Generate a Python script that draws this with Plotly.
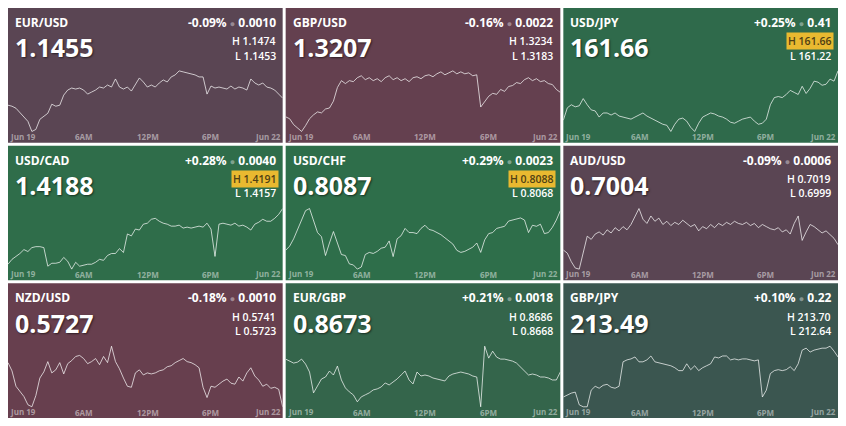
import plotly.graph_objects as go

# --- Tile data ---
PAIRS = ["EUR/USD", "GBP/USD", "USD/JPY", "USD/CAD", "USD/CHF", "AUD/USD", "NZD/USD", "EUR/GBP", "GBP/JPY"]
PRICES = ["1.1455", "1.3207", "161.66", "1.4188", "0.8087", "0.7004", "0.5727", "0.8673", "213.49"]
CHANGE_PCT = ["-0.09%", "-0.16%", "+0.25%", "+0.28%", "+0.29%", "-0.09%", "-0.18%", "+0.21%", "+0.10%"]
CHANGE_ABS = ["0.0010", "0.0022", "0.41", "0.0040", "0.0023", "0.0006", "0.0010", "0.0018", "0.22"]
HIGHS = ["1.1474", "1.3234", "161.66", "1.4191", "0.8088", "0.7019", "0.5741", "0.8686", "213.70"]
LOWS = ["1.1453", "1.3183", "161.22", "1.4157", "0.8068", "0.6999", "0.5723", "0.8668", "212.64"]
NEAR_HIGH = [False, False, True, True, True, False, False, False, False]
TILE_COLORS = ["#5a4553", "#64404f", "#2f6a4b", "#2f6d4a", "#2e6e4a",
               "#5a4553", "#673f4e", "#34654b", "#3b5650"]

TICK_LABELS = ["Jun 19", "6AM", "12PM", "6PM", "Jun 22"]
TICK_POS = [0, 19.2, 35.1, 50.9, 69]

# --- Intraday series (70 samples each) ---
EUR_USD = [1.1438, 1.1437, 1.1435, 1.1431, 1.1427, 1.1422, 1.1412, 1.1414, 1.1424, 1.1427,
           1.1430, 1.1439, 1.1437, 1.1438, 1.1448, 1.1453, 1.1455, 1.1454, 1.1455, 1.1453,
           1.1449, 1.1451, 1.1453, 1.1456, 1.1455, 1.1458, 1.1456, 1.1464, 1.1456, 1.1454,
           1.1456, 1.1452, 1.1458, 1.1465, 1.1461, 1.1456, 1.1458, 1.1456, 1.1460, 1.1463,
           1.1461, 1.1466, 1.1468, 1.1472, 1.1471, 1.1470, 1.1469, 1.1468, 1.1466, 1.1466,
           1.1449, 1.1457, 1.1455, 1.1456, 1.1455, 1.1454, 1.1457, 1.1454, 1.1456, 1.1455,
           1.1453, 1.1464, 1.1460, 1.1458, 1.1460, 1.1456, 1.1455, 1.1453, 1.1449, 1.1445]
GBP_USD = [1.3226, 1.3224, 1.3218, 1.3214, 1.3211, 1.3217, 1.3224, 1.3228, 1.3231, 1.3230,
           1.3234, 1.3235, 1.3242, 1.3256, 1.3263, 1.3260, 1.3263, 1.3262, 1.3266, 1.3268,
           1.3264, 1.3266, 1.3263, 1.3265, 1.3262, 1.3266, 1.3268, 1.3264, 1.3266, 1.3263,
           1.3265, 1.3262, 1.3266, 1.3267, 1.3265, 1.3268, 1.3269, 1.3267, 1.3270, 1.3272,
           1.3269, 1.3271, 1.3273, 1.3270, 1.3272, 1.3270, 1.3271, 1.3268, 1.3269, 1.3236,
           1.3242, 1.3247, 1.3250, 1.3249, 1.3254, 1.3252, 1.3257, 1.3258, 1.3261, 1.3260,
           1.3264, 1.3266, 1.3263, 1.3265, 1.3262, 1.3263, 1.3260, 1.3259, 1.3254, 1.3251]
USD_JPY = [161.23, 161.35, 161.38, 161.36, 161.37, 161.44, 161.38, 161.33, 161.32, 161.26,
           161.30, 161.30, 161.28, 161.30, 161.27, 161.26, 161.25, 161.24, 161.26, 161.28,
           161.30, 161.27, 161.25, 161.23, 161.21, 161.19, 161.18, 161.12, 161.19, 161.24,
           161.25, 161.22, 161.16, 161.12, 161.20, 161.26, 161.28, 161.30, 161.29, 161.27,
           161.26, 161.24, 161.21, 161.20, 161.22, 161.24, 161.25, 161.26, 161.22, 161.19,
           161.20, 161.24, 161.38, 161.45, 161.46, 161.45, 161.48, 161.52, 161.50, 161.48,
           161.56, 161.49, 161.54, 161.61, 161.60, 161.57, 161.58, 161.63, 161.61, 161.71]
USD_CAD = [1.4116, 1.4121, 1.4124, 1.4127, 1.4131, 1.4129, 1.4133, 1.4134, 1.4134, 1.4133,
           1.4114, 1.4117, 1.4117, 1.4118, 1.4123, 1.4119, 1.4111, 1.4118, 1.4114, 1.4115,
           1.4116, 1.4116, 1.4118, 1.4121, 1.4120, 1.4125, 1.4127, 1.4127, 1.4132, 1.4128,
           1.4147, 1.4145, 1.4152, 1.4151, 1.4157, 1.4158, 1.4162, 1.4163, 1.4160, 1.4158,
           1.4157, 1.4155, 1.4155, 1.4156, 1.4153, 1.4154, 1.4153, 1.4154, 1.4155, 1.4154,
           1.4158, 1.4152, 1.4124, 1.4157, 1.4158, 1.4157, 1.4156, 1.4158, 1.4155, 1.4156,
           1.4154, 1.4151, 1.4157, 1.4159, 1.4162, 1.4160, 1.4160, 1.4163, 1.4167, 1.4173]
USD_CHF = [0.8031, 0.8035, 0.8042, 0.8051, 0.8060, 0.8069, 0.8071, 0.8060, 0.8048, 0.8044,
           0.8026, 0.8038, 0.8049, 0.8038, 0.8027, 0.8026, 0.8018, 0.8017, 0.8013, 0.8015,
           0.8027, 0.8029, 0.8028, 0.8030, 0.8033, 0.8034, 0.8040, 0.8025, 0.8042, 0.8045,
           0.8052, 0.8048, 0.8048, 0.8047, 0.8052, 0.8055, 0.8051, 0.8050, 0.8048, 0.8046,
           0.8043, 0.8040, 0.8037, 0.8031, 0.8029, 0.8030, 0.8032, 0.8034, 0.8038, 0.8029,
           0.8041, 0.8047, 0.8048, 0.8052, 0.8053, 0.8054, 0.8059, 0.8060, 0.8061, 0.8062,
           0.8060, 0.8048, 0.8055, 0.8054, 0.8056, 0.8047, 0.8048, 0.8053, 0.8060, 0.8069]
AUD_USD = [0.6931, 0.6928, 0.6920, 0.6914, 0.6913, 0.6930, 0.6944, 0.6941, 0.6946, 0.6948,
           0.6945, 0.6950, 0.6947, 0.6952, 0.6949, 0.6953, 0.6950, 0.6955, 0.6962, 0.6970,
           0.6960, 0.6956, 0.6963, 0.6958, 0.6961, 0.6955, 0.6958, 0.6954, 0.6957, 0.6955,
           0.6959, 0.6956, 0.6953, 0.6955, 0.6949, 0.6953, 0.6951, 0.6955, 0.6952, 0.6956,
           0.6954, 0.6957, 0.6955, 0.6958, 0.6956, 0.6955, 0.6957, 0.6954, 0.6956, 0.6952,
           0.6955, 0.6953, 0.6951, 0.6950, 0.6952, 0.6948, 0.6950, 0.6946, 0.6956, 0.6963,
           0.6940, 0.6948, 0.6955, 0.6953, 0.6950, 0.6947, 0.6949, 0.6945, 0.6942, 0.6936]
NZD_USD = [0.5754, 0.5746, 0.5731, 0.5726, 0.5721, 0.5713, 0.5711, 0.5722, 0.5739, 0.5745,
           0.5755, 0.5744, 0.5747, 0.5754, 0.5743, 0.5753, 0.5756, 0.5760, 0.5761, 0.5758,
           0.5753, 0.5755, 0.5758, 0.5752, 0.5760, 0.5754, 0.5770, 0.5755, 0.5748, 0.5739,
           0.5731, 0.5730, 0.5744, 0.5747, 0.5742, 0.5744, 0.5743, 0.5744, 0.5746, 0.5747,
           0.5750, 0.5751, 0.5754, 0.5756, 0.5758, 0.5755, 0.5754, 0.5752, 0.5749, 0.5730,
           0.5720, 0.5731, 0.5730, 0.5733, 0.5736, 0.5738, 0.5734, 0.5733, 0.5740, 0.5736,
           0.5744, 0.5749, 0.5741, 0.5737, 0.5731, 0.5733, 0.5729, 0.5730, 0.5728, 0.5711]
EUR_GBP = [0.8659, 0.8657, 0.8655, 0.8656, 0.8659, 0.8654, 0.8646, 0.8625, 0.8632, 0.8639,
           0.8641, 0.8647, 0.8643, 0.8652, 0.8638, 0.8630, 0.8626, 0.8623, 0.8616, 0.8621,
           0.8623, 0.8625, 0.8628, 0.8629, 0.8631, 0.8635, 0.8633, 0.8636, 0.8639, 0.8643,
           0.8647, 0.8638, 0.8634, 0.8646, 0.8642, 0.8643, 0.8642, 0.8640, 0.8639, 0.8638,
           0.8637, 0.8642, 0.8644, 0.8645, 0.8646, 0.8645, 0.8644, 0.8642, 0.8641, 0.8611,
           0.8672, 0.8660, 0.8667, 0.8661, 0.8659, 0.8659, 0.8658, 0.8657, 0.8655, 0.8651,
           0.8648, 0.8643, 0.8644, 0.8643, 0.8641, 0.8641, 0.8640, 0.8638, 0.8638, 0.8646]
GBP_JPY = [213.21, 213.23, 213.25, 213.26, 213.13, 213.11, 213.11, 213.28, 213.32, 213.30,
           213.33, 213.34, 213.31, 213.30, 213.32, 213.57, 213.59, 213.60, 213.62, 213.57,
           213.57, 213.59, 213.63, 213.57, 213.56, 213.55, 213.54, 213.53, 213.51, 213.48,
           213.48, 213.55, 213.49, 213.53, 213.48, 213.51, 213.53, 213.55, 213.62, 213.61,
           213.63, 213.63, 213.59, 213.60, 213.59, 213.60, 213.60, 213.59, 213.58, 213.59,
           213.21, 213.28, 213.45, 213.48, 213.49, 213.48, 213.49, 213.52, 213.48, 213.55,
           213.69, 213.71, 213.67, 213.69, 213.70, 213.71, 213.71, 213.73, 213.68, 213.62]

SERIES = [EUR_USD, GBP_USD, USD_JPY, USD_CAD, USD_CHF, AUD_USD, NZD_USD, EUR_GBP, GBP_JPY]

# --- Geometry (pixels) ---
W, H = 830, 410
GAP = 3
tile_w = (W - 2 * GAP) / 3
tile_h = (H - 2 * GAP) / 3
FONT = "Open Sans"

fig = go.Figure()
annotations = []
shapes = []


def note(text, x, y, size, anchor="left", color="white", weight=700, **kw):
    # helper: paper-positioned text given in tile pixels
    return dict(text=text, x=x / W, y=1 - y / H, xref="paper", yref="paper",
                xanchor=anchor, yanchor="middle", showarrow=False,
                font=dict(family=FONT, size=size, color=color, weight=weight,
                          shadow=kw.pop("shadow", "none")), **kw)


for k, pair in enumerate(PAIRS):
    r, c = divmod(k, 3)
    x0 = c * (tile_w + GAP)
    x1 = x0 + tile_w
    top = r * (tile_h + GAP)
    bot = top + tile_h
    ax = "" if k == 0 else str(k + 1)

    shapes.append(dict(type="rect", xref="paper", yref="paper", layer="below",
                       x0=x0 / W, x1=x1 / W, y0=1 - bot / H, y1=1 - top / H,
                       fillcolor=TILE_COLORS[k], line_width=0))

    vals = SERIES[k]
    lo, hi = min(vals), max(vals)
    pad = (hi - lo) * 0.02
    fig.add_trace(go.Scatter(
        x=list(range(len(vals))), y=vals, mode="lines",
        line=dict(color="rgba(255,255,255,0.7)", width=1),
        xaxis="x" + ax, yaxis="y" + ax, hoverinfo="skip", showlegend=False))
    fig.update_layout({
        "xaxis" + ax: dict(domain=[x0 / W, x1 / W], range=[0, len(vals) - 1],
                           visible=False, anchor="y" + ax, fixedrange=True),
        "yaxis" + ax: dict(domain=[1 - (bot - 10) / H, 1 - (bot - 73) / H],
                           range=[lo - pad, hi + pad], visible=False,
                           anchor="x" + ax, fixedrange=True),
    })

    # header texts
    annotations.append(note(pair, x0 + 5, top + 14.5, 12))
    annotations.append(note(PRICES[k], x0 + 5, top + 39.5, 25,
                            shadow="1px 1px 2px rgba(0,0,0,0.55)"))
    chg = (f"{CHANGE_PCT[k]} <span style='color:rgba(255,255,255,0.4);font-size:9px'>●</span> "
           f"{CHANGE_ABS[k]}")
    annotations.append(note(chg, x1 - 5, top + 14.5, 12, anchor="right"))
    if NEAR_HIGH[k]:
        annotations.append(note(f"H {HIGHS[k]}", x1 - 4, top + 33.5, 10.5, anchor="right",
                                color="#4f3f14", weight=600, bgcolor="#e9b930", borderpad=1))
    else:
        annotations.append(note(f"H {HIGHS[k]}", x1 - 5, top + 33.5, 10.5, anchor="right",
                                weight=600))
    annotations.append(note(f"L {LOWS[k]}", x1 - 5, top + 47.5, 10.5, anchor="right",
                            weight=600))

    # time axis labels
    for j, lab in enumerate(TICK_LABELS):
        anchor = "left" if j == 0 else ("right" if j == len(TICK_LABELS) - 1 else "center")
        annotations.append(dict(text=lab, x=TICK_POS[j], y=1 - (bot - 6) / H,
                                xref="x" + ax, yref="paper", xanchor=anchor, yanchor="middle",
                                showarrow=False,
                                font=dict(family=FONT, size=8, color="rgba(255,255,255,0.48)", weight=700)))

fig.update_layout(
    width=W, height=H,
    margin=dict(l=0, r=0, t=0, b=0),
    paper_bgcolor="white",
    plot_bgcolor="rgba(0,0,0,0)",
    shapes=shapes,
    annotations=annotations,
    showlegend=False,
)

fig.write_html("out.html", config={"displayModeBar": False})
